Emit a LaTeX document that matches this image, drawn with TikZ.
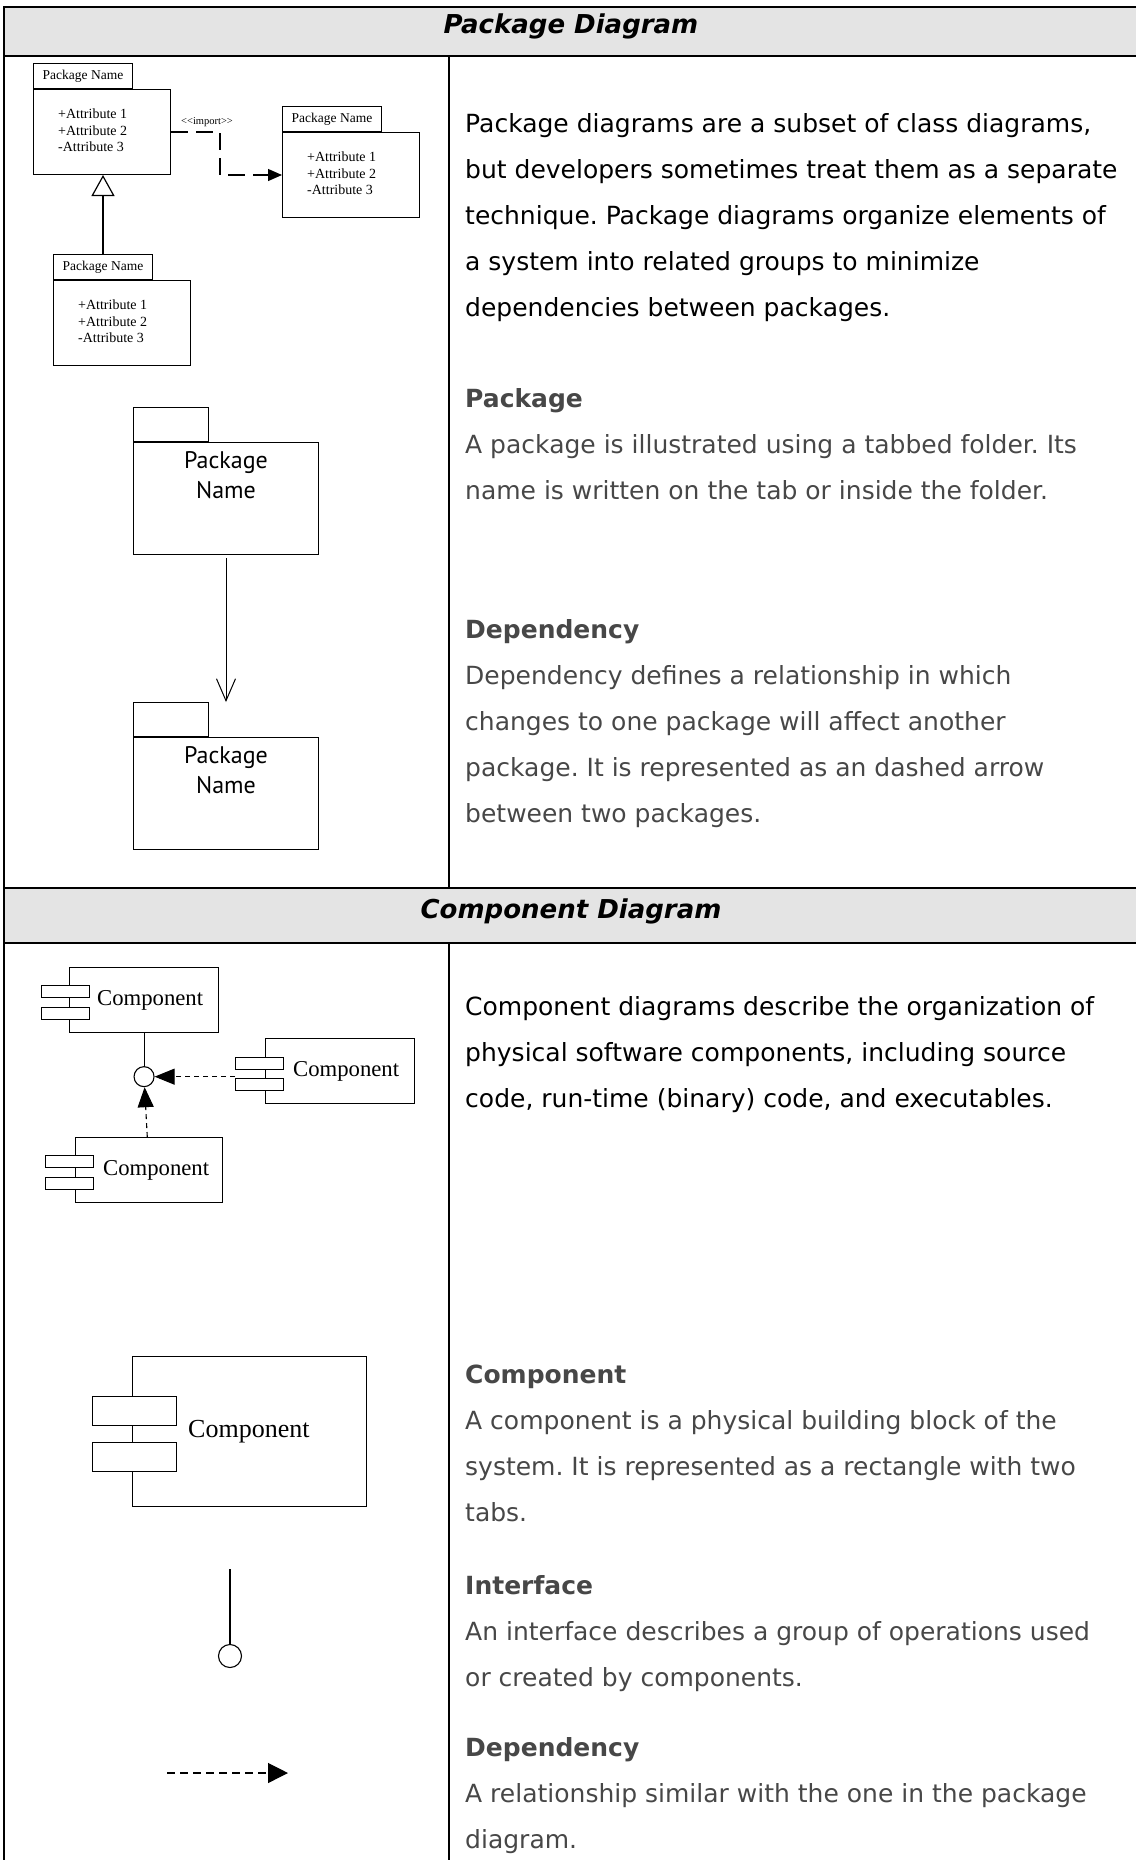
\documentclass[tikz,border=0pt]{standalone}
\usepackage{fontspec}
\setmainfont{DejaVu Sans}
\newfontfamily\umlserif{Liberation Serif}
\newfontfamily\umlsans{PT Sans}
\usepackage{xcolor}
\usepackage{tikz}
\usetikzlibrary{arrows.meta,positioning}
\frenchspacing

\definecolor{headgray}{HTML}{E4E4E4}
\definecolor{notegray}{HTML}{474747}

\tikzset{
  gridline/.style={line width=2.4pt},
  headtext/.style={inner sep=0pt, anchor=base, font=\fontsize{26}{30}\selectfont\bfseries\itshape},
  desctext/.style={anchor=north west, inner sep=0pt, align=left, font=\fontsize{25}{46}\selectfont},
  pkgbox/.style={draw, line width=1pt, fill=white, inner sep=0pt, anchor=north west},
  umlpkg/.style={pkgbox, minimum width=137pt, minimum height=85pt},
  umltab/.style={pkgbox, minimum width=99pt, minimum height=25pt, font=\umlserif\fontsize{13.5}{15}\selectfont},
  attrtext/.style={inner sep=0pt, align=left, font=\umlserif\fontsize{14}{16.5}\selectfont},
  folder/.style={pkgbox, minimum width=185pt, minimum height=112pt},
  foldertab/.style={pkgbox, minimum width=75pt, minimum height=34pt},
  foldername/.style={inner sep=0pt, align=center, font=\umlsans\fontsize{24}{30}\selectfont},
  compbox/.style={draw, line width=1.1pt, fill=white, inner sep=0pt, anchor=north west},
  comptab/.style={compbox, minimum width=48pt, minimum height=12pt},
  comptext/.style={inner sep=0pt, anchor=west, font=\umlserif\fontsize{22.7}{26}\selectfont},
  iface/.style={circle, draw, line width=1.1pt, fill=white, inner sep=0pt},
  compdep/.style={line width=1.1pt, dash pattern=on 5pt off 4pt, -{Triangle[width=16pt,length=20pt]}},
}

\begin{document}
\begin{tikzpicture}[x=1pt,y=-1pt]
\useasboundingbox (0,0) rectangle (1136,1860);

% table
\fill[headgray] (4,7) rectangle (1136,56);
\fill[headgray] (4,888) rectangle (1136,943);
\draw[gridline] (1136,7) -- (4,7) -- (4,1860);
\draw[gridline] (4,56) -- (1136,56);
\draw[gridline] (449,56) -- (449,888);
\draw[gridline] (4,888) -- (1136,888);
\draw[gridline] (4,943) -- (1136,943);
\draw[gridline] (449,943) -- (449,1860);
\node[headtext] (hdpkg) at (571,34) {Package Diagram};
\node[headtext] (hdcomp) at (571,918) {Component Diagram};

% package diagram
\node[umlpkg] (p1) at (33,89) {};
\node[umltab, above right=0pt of p1.north west] (p1tab) {Package Name};
\node[attrtext, below right=20pt and 25pt of p1.north west] (p1attr) {+Attribute 1\\+Attribute 2\\-Attribute 3};
\node[umlpkg] (p2) at (282,132) {};
\node[umltab, above right=0pt of p2.north west] (p2tab) {Package Name};
\node[attrtext, below right=20pt and 25pt of p2.north west] (p2attr) {+Attribute 1\\+Attribute 2\\-Attribute 3};
\node[umlpkg] (p3) at (53,280) {};
\node[umltab, above right=0pt of p3.north west] (p3tab) {Package Name};
\node[attrtext, below right=20pt and 25pt of p3.north west] (p3attr) {+Attribute 1\\+Attribute 2\\-Attribute 3};
\node[inner sep=0pt, font=\umlserif\fontsize{10.5}{12}\selectfont] (imp) at (207,122) {\textless\textless import\textgreater\textgreater};
\draw[line width=1.2pt, dash pattern=on 17pt off 8pt, -{Triangle[width=12pt,length=14pt]}] (p1.east) -- ++(49,0) |- (p2.west);
\draw[line width=2.2pt, -{Triangle[open, width=23pt, length=21pt, line width=1.2pt]}] (p3tab.north) -- (p3tab.north |- p1.south);

% package and dependency
\node[folder] (pkgA) at (133,442) {};
\node[foldertab, above right=0pt of pkgA.north west] (pkgAtab) {};
\node[foldername, below=9pt of pkgA.north] (pkgAname) {Package\\Name};
\node[folder] (pkgB) at (133,737) {};
\node[foldertab, above right=0pt of pkgB.north west] (pkgBtab) {};
\node[foldername, below=9pt of pkgB.north] (pkgBname) {Package\\Name};
\draw[line width=1pt, shorten <=3pt, shorten >=35pt, -{Straight Barb[width=19pt,length=22pt]}] (pkgA.south) -- (pkgB.north);

% component diagram
\node[compbox, minimum width=149pt, minimum height=65pt] (c1) at (69,967) {};
\node[comptab] (c1tabA) at (41,985) {};
\node[comptab] (c1tabB) at (41,1007) {};
\node[comptext, right=28pt of c1.west] (c1name) {Component};
\node[compbox, minimum width=149pt, minimum height=65pt] (c2) at (265,1038) {};
\node[comptab] (c2tabA) at (235,1057) {};
\node[comptab] (c2tabB) at (235,1078) {};
\node[comptext, right=28pt of c2.west] (c2name) {Component};
\node[compbox, minimum width=147pt, minimum height=65pt] (c3) at (75,1137) {};
\node[comptab] (c3tabA) at (45,1155) {};
\node[comptab] (c3tabB) at (45,1177) {};
\node[comptext, right=28pt of c3.west] (c3name) {Component};
\node[iface, minimum size=20pt, below=33pt of c1] (ci) {};
\draw[line width=1.1pt] (c1) -- (ci);
\draw[compdep] (c2tabA.west |- ci) -- (ci);
\draw[compdep] (c3) -- (ci);

% component, interface, dependency
\node[compbox, minimum width=234pt, minimum height=150pt] (cbig) at (132,1356) {};
\node[comptab, minimum width=84pt, minimum height=29pt] (cbigtabA) at (92,1396) {};
\node[comptab, minimum width=84pt, minimum height=29pt] (cbigtabB) at (92,1442) {};
\node[comptext, font=\umlserif\fontsize{26}{30}\selectfont, right=56pt of cbig.west] (cbigname) {Component};
\node[iface, minimum size=23pt] (ifc) at (230,1656) {};
\coordinate (ifctop) at (230,1569);
\draw[line width=1.1pt] (ifctop) -- (ifc);
\coordinate (cdepA) at (167,1773);
\coordinate (cdepB) at (288,1773);
\draw[line width=1.2pt, dash pattern=on 8pt off 5pt, -{Triangle[width=20pt,length=20pt]}] (cdepA) -- (cdepB);

% descriptions
\node[desctext] (pkgintro) at (465,113) {Package diagrams are a subset of class diagrams,\\but developers sometimes treat them as a separate\\technique. Package diagrams organize elements of\\a system into related groups to minimize\\dependencies between packages.};
\node[desctext, text=notegray] (pkgnote) at (465,388) {\textbf{Package}\\A package is illustrated using a tabbed folder. Its\\name is written on the tab or inside the folder.};
\node[desctext, text=notegray] (depnote) at (465,619) {\textbf{Dependency}\\Dependency defines a relationship in which\\changes to one package will affect another\\package. It is represented as an dashed arrow\\between two packages.};
\node[desctext] (compintro) at (465,996) {Component diagrams describe the organization of\\physical software components, including source\\code, run-time (binary) code, and executables.};
\node[desctext, text=notegray] (compnote) at (465,1365) {\textbf{Component}\\A component is a physical building block of the\\system. It is represented as a rectangle with two\\tabs.};
\node[desctext, text=notegray] (ifacenote) at (465,1575) {\textbf{Interface}\\An interface describes a group of operations used\\or created by components.};
\node[desctext, text=notegray] (cdepnote) at (465,1737) {\textbf{Dependency}\\A relationship similar with the one in the package\\diagram.};
\end{tikzpicture}
\end{document}
